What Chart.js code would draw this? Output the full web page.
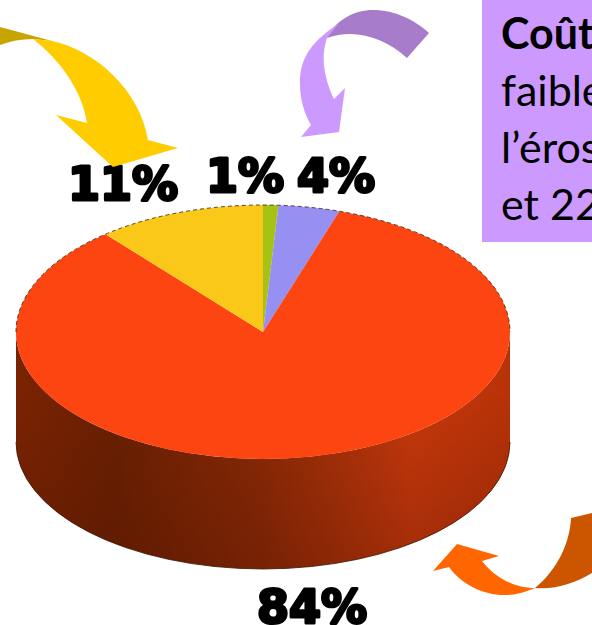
<!DOCTYPE html>
<html lang="fr">
<head>
<meta charset="utf-8">
<title>Coût</title>
<script src="https://cdn.jsdelivr.net/npm/chart.js@4"></script>
<style>
    html, body { margin: 0; padding: 0; background: #fff; overflow: hidden; }
    #wrap { position: relative; width: 592px; height: 625px; overflow: hidden; }
    #note {
        position: absolute; left: 482px; top: 0; width: 110px; height: 242px;
        background: #cc99ff; color: #000; overflow: hidden; white-space: nowrap;
        font: 43px/57px Lato, sans-serif; padding: 4px 0 0 19px; box-sizing: border-box;
    }
</style>
</head>
<body>
<div id="wrap">
    <canvas id="pie" width="592" height="625"></canvas>
    <div id="note"><b>Coût</b><br>faible<br>l’éros<br>et 22</div>
</div>
<script>
// Slices, clockwise from the top of the pie
const sliceLabels = ['1%', '4%', '84%', '11%'];
const sliceValues = [1, 4, 84, 11];
const sliceColors = ['#a6c212', '#9590f2', '#fc4510', '#f9c818'];

// Where each percentage sits around the pie
const labelAnchors = [[245, 192], [336, 192], [312, 623], [123, 200]];

const squash = 127 / 247; // top face ellipse
const depth = 110;        // height of the side wall

function getCenter(chart) {
    const arc = chart.getDatasetMeta(0).data[0];
    return { x: arc.x, y: arc.y, r: arc.outerRadius };
}

function wallPath(ctx, c) {
    const ry = c.r * squash;
    ctx.beginPath();
    ctx.ellipse(c.x, c.y, c.r, ry, 0, 0, Math.PI);
    ctx.ellipse(c.x, c.y + depth, c.r, ry, 0, Math.PI, 0, true);
    ctx.closePath();
}

// Side wall under the top face, then flatten the pie into an ellipse
const tiltPlugin = {
    id: 'tilt',
    beforeDatasetsDraw(chart) {
        const ctx = chart.ctx;
        const c = getCenter(chart);

        const wall = ctx.createLinearGradient(c.x - c.r, 0, c.x + c.r, 0);
        wall.addColorStop(0, '#7a2302');
        wall.addColorStop(0.2, '#6a2002');
        wall.addColorStop(0.5, '#8c2a06');
        wall.addColorStop(0.8, '#c8390c');
        wall.addColorStop(1, '#b83208');
        const shade = ctx.createLinearGradient(0, c.y + 60, 0, c.y + depth + c.r * squash);
        shade.addColorStop(0, 'rgba(70,15,0,0)');
        shade.addColorStop(1, 'rgba(70,15,0,0.3)');

        ctx.save();
        wallPath(ctx, c);
        ctx.fillStyle = wall;
        ctx.fill();
        ctx.fillStyle = shade;
        ctx.fill();

        // rough dark edge along the bottom
        ctx.beginPath();
        ctx.ellipse(c.x, c.y + depth, c.r, c.r * squash, 0, Math.PI, 0, true);
        ctx.strokeStyle = 'rgba(60,20,5,0.8)';
        ctx.lineWidth = 1;
        ctx.stroke();
        ctx.restore();

        ctx.save();
        ctx.translate(c.x, c.y);
        ctx.scale(1, squash);
        ctx.translate(-c.x, -c.y);
    },
    afterDatasetsDraw(chart) {
        const ctx = chart.ctx;
        ctx.restore();

        const c = getCenter(chart);
        ctx.save();
        ctx.beginPath();
        ctx.ellipse(c.x, c.y, c.r, c.r * squash, 0, Math.PI, 2 * Math.PI);
        ctx.setLineDash([4, 3]);
        ctx.strokeStyle = 'rgba(50,30,10,0.8)';
        ctx.lineWidth = 1;
        ctx.stroke();
        ctx.restore();
    }
};

function fillPath(ctx, color, draw) {
    ctx.beginPath();
    draw(ctx);
    ctx.closePath();
    ctx.fillStyle = color;
    ctx.fill();
}

function drawArrows(ctx) {
    // yellow arrow
    fillPath(ctx, '#c8a400', p => {
        p.moveTo(0, 27); p.lineTo(52, 41); p.lineTo(33, 39);
        p.quadraticCurveTo(15, 39, 0, 45);
    });
    fillPath(ctx, '#ffcc00', p => {
        p.moveTo(33, 39); p.lineTo(52, 41);
        p.bezierCurveTo(95, 50, 140, 90, 148, 140);
        p.lineTo(178, 148); p.lineTo(113, 167); p.lineTo(56, 115); p.lineTo(87, 123);
        p.bezierCurveTo(82, 90, 60, 60, 33, 39);
    });
    // purple arrow
    fillPath(ctx, '#a67ccb', p => {
        p.moveTo(327, 38);
        p.bezierCurveTo(335, 20, 355, 10, 373, 10);
        p.bezierCurveTo(395, 10, 415, 20, 429, 33);
        p.lineTo(407, 58);
        p.bezierCurveTo(385, 38, 355, 28, 327, 38);
    });
    fillPath(ctx, '#cc99ff', p => {
        p.moveTo(339, 23);
        p.bezierCurveTo(315, 40, 299, 55, 300, 85);
        p.bezierCurveTo(300, 100, 305, 115, 311, 125);
        p.lineTo(301, 137); p.lineTo(339, 132); p.lineTo(345, 88); p.lineTo(334, 99);
        p.bezierCurveTo(325, 80, 320, 58, 327, 38);
    });
    // orange arrow
    fillPath(ctx, '#cc5500', p => {
        p.moveTo(592, 513); p.lineTo(571, 518);
        p.bezierCurveTo(570, 545, 555, 572, 535, 588);
        p.bezierCurveTo(555, 590, 575, 583, 592, 573);
    });
    fillPath(ctx, '#ff6600', p => {
        p.moveTo(457, 544); p.lineTo(499, 556); p.lineTo(482, 561);
        p.bezierCurveTo(495, 578, 515, 588, 535, 588);
        p.bezierCurveTo(525, 592, 516, 595, 507, 595);
        p.bezierCurveTo(485, 596, 462, 585, 449, 567);
        p.lineTo(433, 571);
    });
}

// Percent labels and the decorative arrows go on top of the pie
const overlayPlugin = {
    id: 'overlay',
    afterDraw(chart) {
        const ctx = chart.ctx;
        ctx.save();
        ctx.font = 'bold 46px "DejaVu Sans"';
        ctx.textAlign = 'center';
        ctx.textBaseline = 'alphabetic';
        ctx.fillStyle = '#000';
        ctx.strokeStyle = '#000';
        ctx.lineWidth = 3;
        ctx.lineJoin = 'round';
        sliceLabels.forEach((text, i) => {
            const [x, y] = labelAnchors[i];
            ctx.fillText(text, x, y);
            ctx.strokeText(text, x, y);
        });
        ctx.restore();
        drawArrows(ctx);
    }
};

new Chart(document.getElementById('pie'), {
    type: 'pie',
    data: {
        labels: sliceLabels,
        datasets: [{
            data: sliceValues,
            backgroundColor: sliceColors,
            borderWidth: 0
        }]
    },
    options: {
        responsive: false,
        animation: false,
        radius: 247,
        layout: { padding: { right: 66, top: 39 } },
        plugins: {
            legend: { display: false },
            title: { display: false },
            tooltip: { enabled: false }
        }
    },
    plugins: [tiltPlugin, overlayPlugin]
});
</script>
</body>
</html>
